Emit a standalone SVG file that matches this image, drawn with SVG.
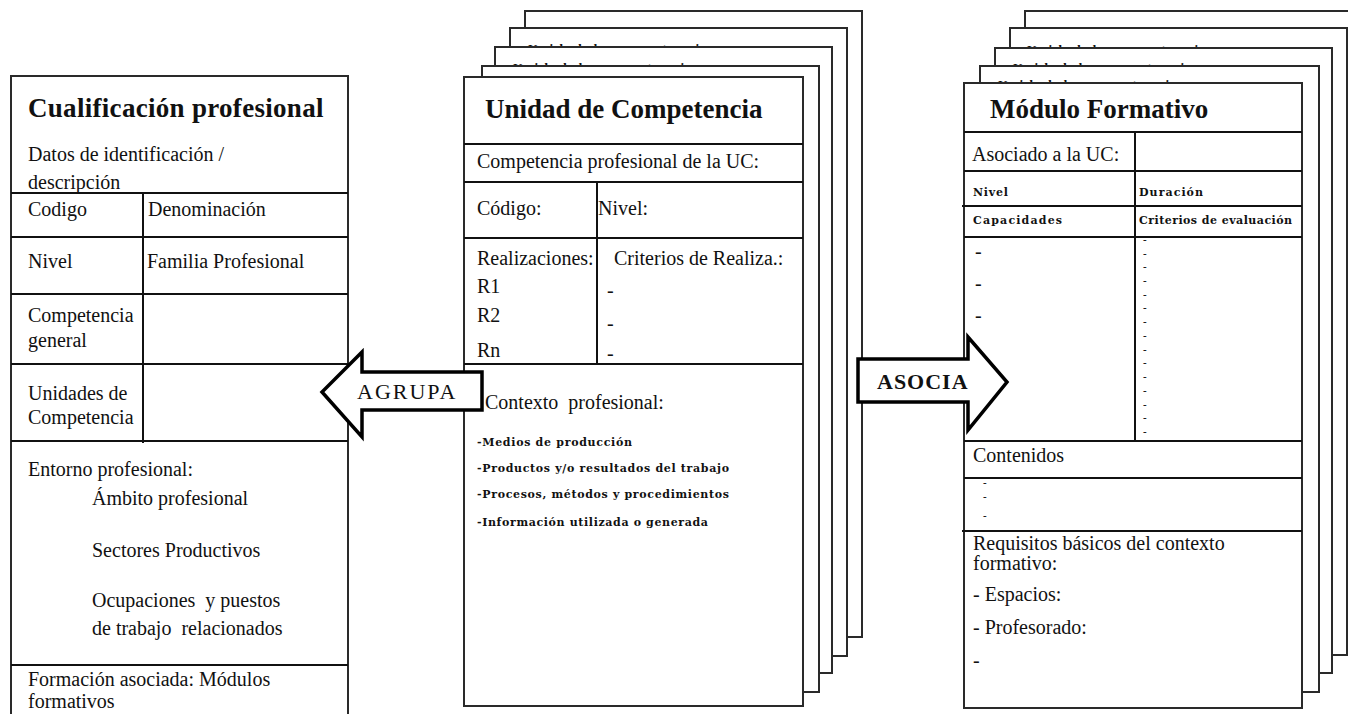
<svg xmlns="http://www.w3.org/2000/svg" width="1348" height="714" viewBox="0 0 1348 714">
<style>
.card{fill:#fff;stroke:#2a2a2a;stroke-width:2}
.ln{stroke:#111;stroke-width:2;fill:none}
.t{font-family:"Liberation Serif","Times New Roman",serif;font-size:20px;fill:#111}
.h{font-size:27px;font-weight:bold}
.s{font-family:"DejaVu Serif","Liberation Serif",serif;font-size:11px;font-weight:bold}
.d{font-size:11px;font-weight:bold}
.f{font-size:13px;font-weight:bold}
.arrow{fill:#fff;stroke:#000;stroke-width:3.5;stroke-linejoin:miter}
.at{font-size:22px;letter-spacing:2px}
</style>
<defs>
<clipPath id="cm4"><rect x="510" y="28" width="337" height="19"/></clipPath>
<clipPath id="cm3"><rect x="495" y="47" width="337" height="19"/></clipPath>
<clipPath id="cr4"><rect x="1010" y="28" width="337" height="20"/></clipPath>
<clipPath id="cr3"><rect x="995" y="48" width="337" height="18"/></clipPath>
<clipPath id="cr2"><rect x="980" y="66" width="339" height="17"/></clipPath>
</defs>
<rect width="1348" height="714" fill="#fff"/>

<g id="cualificacion">
<rect class="card" x="11" y="76" width="337" height="660"/>
<path class="ln" d="M11 193H348M11 237H348M11 294H348M11 364H348M11 441H348M11 665H348M143 193V443"/>
<text class="t h" x="28" y="117" style="letter-spacing:0.3px">Cualificación profesional</text>
<text class="t" x="28" y="161">Datos de identificación /</text>
<text class="t" x="28" y="189">descripción</text>
<text class="t" x="28" y="216">Codigo</text>
<text class="t" x="148" y="216">Denominación</text>
<text class="t" x="28" y="268">Nivel</text>
<text class="t" x="147" y="268">Familia Profesional</text>
<text class="t" x="28" y="322">Competencia</text>
<text class="t" x="28" y="347">general</text>
<text class="t" x="28" y="400">Unidades de</text>
<text class="t" x="28" y="424">Competencia</text>
<text class="t" x="28" y="476">Entorno profesional:</text>
<text class="t" x="92" y="505">Ámbito profesional</text>
<text class="t" x="92" y="557">Sectores Productivos</text>
<text class="t" x="92" y="607" xml:space="preserve">Ocupaciones  y puestos</text>
<text class="t" x="92" y="635" xml:space="preserve">de trabajo  relacionados</text>
<text class="t" x="28" y="686">Formación asociada: Módulos</text>
<text class="t" x="28" y="708">formativos</text>
</g>

<g id="unidad-competencia">
<rect class="card" x="525" y="11" width="337" height="626"/>
<rect class="card" x="510" y="28" width="337" height="628"/>
<text class="t f" x="528" y="53" textLength="180" lengthAdjust="spacing" clip-path="url(#cm4)">Unidad de competencia</text>
<rect class="card" x="495" y="47" width="337" height="626"/>
<text class="t f" x="513" y="72" textLength="180" lengthAdjust="spacing" clip-path="url(#cm3)">Unidad de competencia</text>
<rect class="card" x="482" y="66" width="337" height="626"/>
<rect class="card" x="464" y="77" width="339" height="629"/>
<path class="ln" d="M464 144H803M464 182H803M464 238H803M464 364H803M597 182V364"/>
<text class="t h" x="485" y="118">Unidad de Competencia</text>
<text class="t" x="477" y="168">Competencia profesional de la UC:</text>
<text class="t" x="477" y="215">Código:</text>
<text class="t" x="598" y="215">Nivel:</text>
<text class="t" x="477" y="265">Realizaciones:</text>
<text class="t" x="614" y="265">Criterios de Realiza.:</text>
<text class="t" x="477" y="293">R1</text>
<text class="t" x="477" y="322">R2</text>
<text class="t" x="477" y="357">Rn</text>
<text class="t" x="607" y="297">-</text>
<text class="t" x="607" y="330">-</text>
<text class="t" x="607" y="360">-</text>
<text class="t" x="485" y="409" xml:space="preserve">Contexto  profesional:</text>
<text class="t s" x="477" y="446" textLength="155" lengthAdjust="spacing">-Medios de producción</text>
<text class="t s" x="477" y="472" textLength="252" lengthAdjust="spacing">-Productos y/o resultados del trabajo</text>
<text class="t s" x="477" y="498" textLength="252" lengthAdjust="spacing">-Procesos, métodos y procedimientos</text>
<text class="t s" x="477" y="526" textLength="231" lengthAdjust="spacing">-Información utilizada o generada</text>
</g>

<g id="modulo-formativo">
<rect class="card" x="1025" y="11" width="400" height="620"/>
<rect class="card" x="1010" y="28" width="337" height="627"/>
<text class="t f" x="1027" y="54" textLength="180" lengthAdjust="spacing" clip-path="url(#cr4)">Unidad de competencia</text>
<rect class="card" x="995" y="48" width="337" height="625"/>
<text class="t f" x="1013" y="72" textLength="180" lengthAdjust="spacing" clip-path="url(#cr3)">Unidad de competencia</text>
<rect class="card" x="980" y="66" width="339" height="626"/>
<text class="t f" x="998" y="89" textLength="180" lengthAdjust="spacing" clip-path="url(#cr2)">Unidad de competencia</text>
<rect class="card" x="964" y="83" width="338" height="625"/>
<path class="ln" d="M964 132H1302M964 171H1302M962 206H1302M964 237H1302M964 441H1302M964 478H1302M962 531H1302M1135 132V441"/>
<text class="t h" x="990" y="118">Módulo Formativo</text>
<text class="t" x="972" y="161">Asociado a la UC:</text>
<text class="t s" x="973" y="196" textLength="35" lengthAdjust="spacing">Nivel</text>
<text class="t s" x="1139" y="196" textLength="64" lengthAdjust="spacing">Duración</text>
<text class="t s" x="973" y="224" textLength="89" lengthAdjust="spacing">Capacidades</text>
<text class="t s" x="1139" y="224" textLength="153" lengthAdjust="spacing">Criterios de evaluación</text>
<text class="t" x="975" y="258">-</text>
<text class="t" x="975" y="290">-</text>
<text class="t" x="975" y="322">-</text>
<g class="t d">
<text x="1143" y="243">-</text>
<text x="1143" y="257">-</text>
<text x="1143" y="270">-</text>
<text x="1143" y="284">-</text>
<text x="1143" y="298">-</text>
<text x="1143" y="311">-</text>
<text x="1143" y="325">-</text>
<text x="1143" y="339">-</text>
<text x="1143" y="353">-</text>
<text x="1143" y="366">-</text>
<text x="1143" y="380">-</text>
<text x="1143" y="394">-</text>
<text x="1143" y="408">-</text>
<text x="1143" y="421">-</text>
<text x="1143" y="435">-</text>
</g>
<text class="t" x="973" y="462">Contenidos</text>
<g class="t d">
<text x="983" y="486">-</text>
<text x="983" y="500">-</text>
<text x="983" y="519">-</text>
</g>
<text class="t" x="973" y="550">Requisitos básicos del contexto</text>
<text class="t" x="973" y="570">formativo:</text>
<text class="t" x="973" y="601">- Espacios:</text>
<text class="t" x="973" y="634">- Profesorado:</text>
<text class="t" x="973" y="667">-</text>
</g>

<g id="connectors">
<g id="agrupa">
<polygon class="arrow" points="482,372 362,372 362,352 322,392 362,437 362,410 482,410"/>
<text class="t at" x="357" y="399">AGRUPA</text>
</g>
<g id="asocia">
<polygon class="arrow" points="858,359 968,359 968,337 1007,382 968,430 968,402 858,402"/>
<text class="t at" x="877" y="389" style="font-weight:bold;letter-spacing:1px">ASOCIA</text>
</g>
</g>
</svg>
